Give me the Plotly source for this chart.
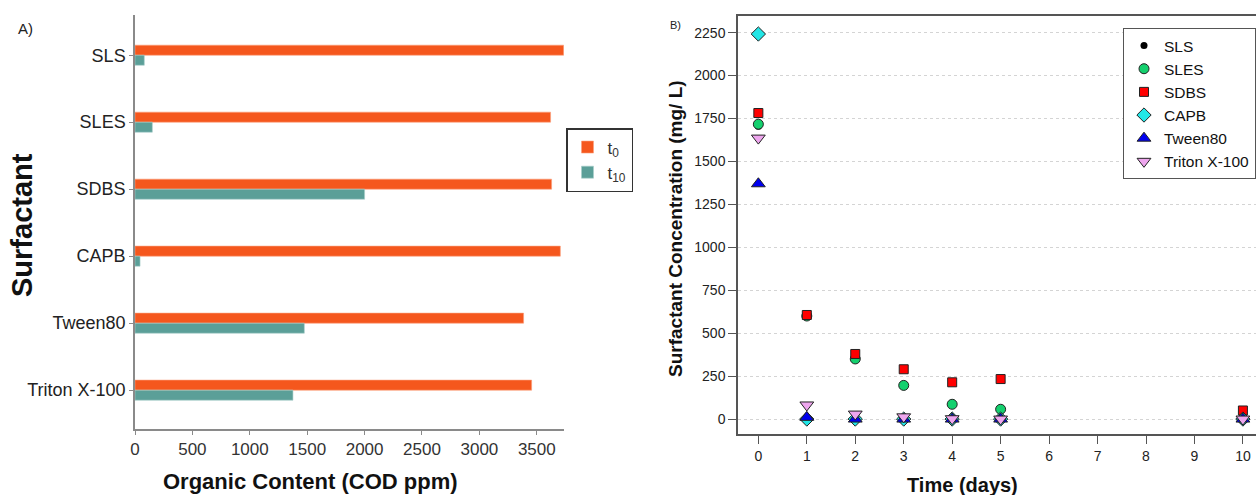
import plotly.graph_objects as go

# ---------------- data ----------------
surfactants = ["SLS", "SLES", "SDBS", "CAPB", "Tween80", "Triton X-100"]
cod_t0 = [3734, 3620, 3629, 3705, 3385, 3455]
cod_t10 = [81, 151, 2000, 44, 1475, 1376]

days = [0, 1, 2, 3, 4, 5, 10]
conc_SLS = [1705, 600, 0, 0, 0, 0, 0]
conc_SLES = [1717, 600, 350, 196, 86, 57, 0]
conc_SDBS = [1782, 606, 379, 290, 214, 233, 50]
conc_CAPB = [2242, 0, 0, 0, 0, 0, 0]
conc_Tween80 = [1370, 10, 0, 0, 0, 0, 0]
conc_Triton = [1636, 82, 29, 13, 2, 0, 0]

x_ticks_left = [0, 500, 1000, 1500, 2000, 2500, 3000, 3500]
y_ticks_right = [0, 250, 500, 750, 1000, 1250, 1500, 1750, 2000, 2250]
x_ticks_right = [0, 1, 2, 3, 4, 5, 6, 7, 8, 9, 10]

FONT = "Liberation Sans, Arial, sans-serif"
W, H = 1256, 495

fig = go.Figure()

# ---------------- left panel: bars ----------------
fig.add_trace(go.Bar(
    x=cod_t0, y=surfactants, orientation="h", name="t<sub>0</sub>",
    marker=dict(color="#F5571D", line=dict(color="#FBA07C", width=0.6)),
    xaxis="x", yaxis="y", legend="legend",
))
fig.add_trace(go.Bar(
    x=cod_t10, y=surfactants, orientation="h", name="t<sub>10</sub>",
    marker=dict(color="#5B9F98", line=dict(color="#A9CFCB", width=0.6)),
    xaxis="x", yaxis="y", legend="legend",
))

# ---------------- right panel: scatter ----------------
series = [
    ("SLS", conc_SLS, "circle", 7, "#000000", 0),
    ("SLES", conc_SLES, "circle", 10, "#14D06E", 1),
    ("SDBS", conc_SDBS, "square", 9, "#FF0000", 1),
    ("CAPB", conc_CAPB, "diamond", 11, "#22E6E6", 1),
    ("Tween80", conc_Tween80, "triangle-up", 12, "#0000EE", 1),
    ("Triton X-100", conc_Triton, "triangle-down", 12, "#EEA6EE", 1),
]
for name, vals, sym, size, col, lw in series:
    fig.add_trace(go.Scatter(
        x=days, y=vals, mode="markers", name=name,
        marker=dict(symbol=sym, size=size, color=col,
                    line=dict(color="#222222", width=lw)),
        xaxis="x2", yaxis="y2", legend="legend2",
    ))

def px_x(p):
    return p / W

def px_y(p):
    return 1 - p / H

fig.update_layout(
    width=W, height=H,
    margin=dict(l=0, r=0, t=0, b=0, autoexpand=False),
    paper_bgcolor="white", plot_bgcolor="white",
    font=dict(family=FONT, color="#222222"),
    barmode="group", bargap=0.7, bargroupgap=0,
    showlegend=True,
    xaxis=dict(
        domain=[px_x(135), px_x(564)], range=[0, 3737],
        tickmode="array", tickvals=x_ticks_left,
        showgrid=False, zeroline=False,
        showline=True, linecolor="#8a8a8a", linewidth=1.5,
        ticks="outside", ticklen=4, tickcolor="#8a8a8a",
        tickfont=dict(size=17, color="#333333"),
        anchor="y",
    ),
    yaxis=dict(
        domain=[px_y(429), px_y(15)],
        type="category", categoryorder="array", categoryarray=surfactants,
        range=[5.58, -0.6],
        showgrid=False, zeroline=False,
        showline=True, linecolor="#8a8a8a", linewidth=1.5,
        ticks="outside", ticklen=4, tickcolor="#8a8a8a",
        tickfont=dict(size=18, color="#222222"),
        anchor="x",
    ),
    xaxis2=dict(
        domain=[px_x(738), 1.0], range=[-0.42, 10.27],
        tickmode="array", tickvals=x_ticks_right,
        showgrid=False, zeroline=False,
        showline=True, linecolor="#555555", linewidth=1.5, mirror=True,
        ticks="outside", ticklen=8, tickcolor="#555555",
        tickfont=dict(size=14, color="#222222"),
        anchor="y2",
    ),
    yaxis2=dict(
        domain=[px_y(434), px_y(16)], range=[-87, 2347],
        tickmode="array", tickvals=y_ticks_right,
        showgrid=True, gridcolor="#d4d4d4", griddash="dot", gridwidth=1,
        zeroline=False,
        showline=True, linecolor="#555555", linewidth=1.5,
        ticks="outside", ticklen=8, tickcolor="#555555",
        tickfont=dict(size=14, color="#222222"),
        anchor="x2",
    ),
    legend=dict(
        x=px_x(566), y=px_y(128), xanchor="left", yanchor="top",
        bordercolor="#333333", borderwidth=1.5, bgcolor="white",
        font=dict(size=17, color="#333333"),
        traceorder="normal",
    ),
    legend2=dict(
        x=1.0, y=px_y(28), xanchor="right", yanchor="top",
        bordercolor="#555555", borderwidth=1, bgcolor="white",
        font=dict(size=15.5, color="#111111"),
        traceorder="normal", itemsizing="trace",
    ),
    annotations=[
        dict(text="A)", x=px_x(16), y=px_y(28), xref="paper", yref="paper",
             xanchor="left", yanchor="middle", showarrow=False,
             font=dict(size=15, color="#222222")),
        dict(text="B)", x=px_x(668), y=px_y(25), xref="paper", yref="paper",
             xanchor="left", yanchor="middle", showarrow=False,
             font=dict(size=11, color="#222222")),
        dict(text="<b>Surfactant</b>", x=px_x(22), y=px_y(225), xref="paper", yref="paper",
             xanchor="center", yanchor="middle", showarrow=False, textangle=-90,
             font=dict(size=29, color="#111111")),
        dict(text="<b>Organic Content (COD ppm)</b>", x=px_x(310), y=px_y(481),
             xref="paper", yref="paper", xanchor="center", yanchor="middle",
             showarrow=False, font=dict(size=22, color="#111111")),
        dict(text="<b>Surfactant Concentration (mg/ L)</b>", x=px_x(675), y=px_y(229),
             xref="paper", yref="paper", xanchor="center", yanchor="middle",
             showarrow=False, textangle=-90, font=dict(size=19, color="#111111")),
        dict(text="<b>Time (days)</b>", x=px_x(962), y=px_y(485),
             xref="paper", yref="paper", xanchor="center", yanchor="middle",
             showarrow=False, font=dict(size=20, color="#111111")),
    ],
)

fig.write_html("out.html")
